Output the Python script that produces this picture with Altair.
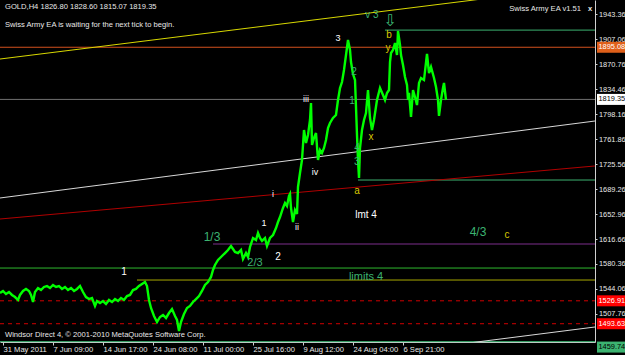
import altair as alt
import pandas as pd

W, H = 595, 342
Y_MIN, Y_MAX = 1467.1, 1963.7
FONT = "Liberation Sans"

# ---- price path (bar position, price) ----
bar_x = [0, 3, 6, 9, 12, 15, 18, 20, 23, 26, 29, 31, 33, 35, 38, 41, 44, 47, 50, 53,
         56, 59, 62, 65, 68, 71, 74, 77, 80, 83, 86, 89, 92, 95, 97, 100, 103, 106, 109, 112,
         115, 118, 121, 124, 127, 130, 133, 136, 139, 142, 145, 147, 149, 151, 154, 157, 160, 163, 166, 169,
         172, 175, 177, 179, 181, 184, 187, 190, 193, 196, 199, 202, 205, 208, 211, 213, 215,
         218, 222, 225, 228, 231, 233, 235, 238, 241, 243, 246, 248, 250, 253, 256, 258, 260, 262, 265,
         267, 270, 273, 276, 278, 280, 283, 285, 287, 289, 290, 291, 293, 295, 297,
         298, 300, 302, 304, 306, 308, 310, 311, 312, 314, 316, 318, 320, 322, 324, 326, 328, 330, 333, 336,
         338, 340, 342, 344, 346, 348, 350, 351, 353, 355, 356, 357, 358, 359, 360, 362, 364, 366, 368, 370,
         372, 374, 377, 380, 383, 385, 387, 389, 390, 391, 393, 395, 397, 398, 400, 401, 403, 405, 407, 408,
         409, 411, 413, 415, 417, 419, 421, 424, 427, 429, 431, 434, 436, 438, 439, 441, 443, 444, 446]
bar_price = [1538.2, 1541.2, 1536.8, 1539.7, 1535.4, 1532.4, 1528.1, 1535.4, 1541.2, 1544.1,
             1541.2, 1535.4, 1525.2, 1539.7, 1545.5, 1542.6, 1547.0, 1548.4, 1545.5, 1549.9,
             1547.0, 1548.4, 1544.1, 1547.0, 1542.6, 1545.5, 1541.2, 1544.1, 1548.4, 1539.7,
             1532.4, 1529.5, 1531.0, 1519.4, 1526.6, 1523.7, 1526.6, 1522.3, 1528.1, 1525.2,
             1529.5, 1526.6, 1531.0, 1528.1, 1533.9, 1535.4, 1542.6, 1544.1, 1548.4, 1551.3,
             1554.2, 1548.4, 1528.1, 1516.5, 1504.9, 1496.2, 1503.4, 1506.3, 1502.0, 1509.2,
             1515.0, 1504.9, 1499.1, 1483.1, 1496.2, 1507.8, 1516.5, 1519.4, 1525.2, 1529.5,
             1533.9, 1541.2, 1549.9, 1554.2, 1561.5, 1571.7, 1578.9,
             1586.2, 1592.0, 1596.3, 1600.7, 1606.5, 1602.1, 1597.8, 1596.3, 1600.7, 1587.6,
             1596.3, 1590.5, 1605.1, 1618.1, 1615.2, 1625.4, 1618.1, 1613.8, 1618.1, 1606.5,
             1618.1, 1622.5, 1632.6, 1641.3, 1648.6, 1661.7, 1668.9, 1664.6, 1679.1, 1682.0,
             1661.7, 1641.3, 1658.8, 1653.0,
             1692.2, 1712.5, 1731.4, 1774.9, 1756.1, 1767.7, 1789.5, 1814.1, 1753.2, 1763.3,
             1770.6, 1731.4, 1745.9, 1741.5, 1748.8, 1760.4, 1777.8, 1785.1, 1792.4, 1796.7,
             1818.5, 1835.9, 1844.6, 1862.1, 1883.8, 1905.6, 1891.1, 1873.7, 1856.2, 1847.5,
             1808.3, 1767.7, 1731.4, 1705.2, 1748.8, 1774.9, 1789.5, 1799.6, 1833.0, 1792.4,
             1774.9, 1789.5, 1818.5, 1835.9, 1825.8, 1818.5, 1828.7, 1833.0, 1873.7, 1886.7,
             1891.1, 1901.3, 1883.8, 1918.7, 1898.4, 1883.8, 1869.3, 1851.9, 1840.3, 1818.5,
             1828.7, 1793.8, 1833.0, 1822.9, 1811.2, 1843.2, 1850.4, 1847.5, 1885.3, 1857.7,
             1866.4, 1850.4, 1837.4, 1818.5, 1795.3, 1818.5, 1835.9, 1843.2, 1818.5]

# ---- horizontal levels ----
lvl_price = [1920.0, 1895.08, 1819.35, 1702.3, 1609.4, 1574.5, 1557.1, 1467.6]
lvl_x0 = [385, 0, 0, 358, 213, 0, 137, 0]
lvl_x1 = [595, 595, 595, 595, 595, 595, 595, 595]
lvl_color = ["#3cb371", "#d2501e", "#707070", "#3cb371", "#7d2f8c", "#2db82d", "#a8a800", "#3cb371"]
dash_price = [1526.91, 1493.63]

# ---- trend lines ----
tr_id = ["yellow", "yellow", "white", "white", "red", "red", "white2", "white2"]
tr_x = [0, 595, 0, 595, 0, 595, 420, 595]
tr_price = [1878.0, 1985.6, 1676.2, 1788.0, 1645.7, 1722.7, 1456.6, 1488.9]
tr_color = ["#d8d800", "#d8d800", "#d8d8d8", "#d8d8d8", "#b00000", "#b00000", "#d8d8d8", "#d8d8d8"]

# ---- wave annotations ----
ann_text = ["v 3", "3", "b", "y", "2", "1", "iii", "x", "4", "3", "iv", "a", "i", "lmt 4",
            "1", "ii", "4/3", "c", "1/3", "2", "2/3", "1", "limits 4"]
ann_x = [372, 338, 389, 388, 354, 352, 306, 371, 357, 357, 315, 357, 273, 366,
         264, 297, 478, 507, 212, 278, 255, 124, 366]
ann_price = [1941.9, 1908.5, 1912.9, 1894.0, 1859.1, 1817.0, 1819.9, 1764.8, 1748.8, 1728.5,
             1713.9, 1686.4, 1682.0, 1651.5, 1639.9, 1634.1, 1626.8, 1622.5, 1619.6, 1590.5,
             1581.8, 1568.7, 1561.5]
ann_color = ["#3cb371", "#ffffff", "#d8c800", "#d8c800", "#3cb371", "#3cb371", "#ffffff", "#d8c800",
             "#3cb371", "#3cb371", "#ffffff", "#d8c800", "#ffffff", "#ffffff", "#ffffff", "#ffffff",
             "#3cb371", "#d8c800", "#3cb371", "#ffffff", "#3cb371", "#ffffff", "#3cb371"]
ann_size = [10, 9, 10, 10, 10, 10, 9, 10, 10, 11, 9, 10, 9, 10, 9, 9, 12, 10, 12, 10, 11, 10, 11]

# ---- price boxes on the right axis ----
box_price = [1895.08, 1819.35, 1526.91, 1493.63, 1459.74]
box_text = ["1895.08", "1819.35", "1526.91", "1493.63", "1459.74"]
box_fill = ["#e0601a", "#ffffff", "#ff0000", "#ff0000", "#3cb371"]
box_tc = ["#ffffff", "#000000", "#ffffff", "#ffffff", "#000000"]

# ---- axes ----
y_ticks = [1943.36, 1907.06, 1870.76, 1834.46, 1798.16, 1761.86, 1725.56, 1689.26,
           1652.96, 1616.66, 1580.36, 1544.06, 1507.76]
time_x = [3, 53, 103, 153, 203, 253, 303, 353, 403]
time_labels = ["31 May 2011", "7 Jun 09:00", "14 Jun 17:00", "24 Jun 08:00", "11 Jul 00:00",
               "25 Jul 16:00", "9 Aug 12:00", "24 Aug 04:00", "6 Sep 21:00"]

expr = "".join(f"datum.value == {v} ? '{t}' : " for v, t in zip(time_x, time_labels)) + "''"

AX = 7.4
xs = alt.Scale(domain=[0, W], nice=False, zero=False)
ys = alt.Scale(domain=[Y_MIN, Y_MAX], nice=False, zero=False)
x_axis = alt.Axis(values=time_x, labelExpr=expr, title=None, grid=False, labelAlign="left",
                  labelFlush=False, labelOverlap=False, labelColor="#e8e8e8", labelFontSize=7.6,
                  labelFont=FONT, tickColor="#d0d0d0", tickSize=3, domainColor="#d0d0d0",
                  labelPadding=0)
y_axis = alt.Axis(orient="right", values=y_ticks, format=".2f", title=None, grid=False,
                  labelColor="#e8e8e8", labelFontSize=AX, labelFont=FONT, tickColor="#d0d0d0",
                  tickSize=2, domainColor="#d0d0d0", labelPadding=1.5, labelOverlap=False,
                  labelFlush=False)


def X(f):
    return alt.X(f"{f}:Q", scale=xs, axis=x_axis)


def Y(f):
    return alt.Y(f"{f}:Q", scale=ys, axis=y_axis)


price_df = pd.DataFrame({"x": bar_x, "p": bar_price})
lvl_df = pd.DataFrame({"x": lvl_x0, "x1": lvl_x1, "p": lvl_price, "c": lvl_color})
dash_df = pd.DataFrame({"x": [0] * len(dash_price), "x1": [595] * len(dash_price), "p": dash_price})
tr_df = pd.DataFrame({"id": tr_id, "x": tr_x, "p": tr_price, "c": tr_color})
ann_df = pd.DataFrame({"t": ann_text, "x": ann_x, "p": ann_price, "c": ann_color, "s": ann_size})
box_df = pd.DataFrame({"p": box_price, "t": box_text, "f": box_fill, "tc": box_tc})

levels = alt.Chart(lvl_df).mark_rule(strokeWidth=1).encode(
    x=X("x"), x2="x1:Q", y=Y("p"), color=alt.Color("c:N", scale=None))
dashed = alt.Chart(dash_df).mark_rule(strokeWidth=1, strokeDash=[4, 4], color="#d00000").encode(
    x=X("x"), x2="x1:Q", y=Y("p"))
trends = alt.Chart(tr_df).mark_line(strokeWidth=1, clip=True).encode(
    x=X("x"), y=Y("p"), detail="id:N", color=alt.Color("c:N", scale=None))
price = alt.Chart(price_df).mark_line(color="#00ff00", strokeWidth=2.4).encode(
    x=X("x"), y=Y("p"), order="x:Q")
ann = alt.Chart(ann_df).mark_text(font=FONT, baseline="middle", align="center").encode(
    x=X("x"), y=Y("p"), text="t:N", color=alt.Color("c:N", scale=None),
    size=alt.Size("s:Q", scale=None))
boxes = alt.Chart(box_df).mark_rule(strokeWidth=11, clip=False).encode(
    x=alt.value(597), x2=alt.value(625), y=Y("p"), color=alt.Color("f:N", scale=None))
box_txt = alt.Chart(box_df).mark_text(font=FONT, fontSize=AX, align="left", baseline="middle").encode(
    x=alt.value(598.5), y=Y("p"), text="t:N", color=alt.Color("tc:N", scale=None))

arrow = alt.Chart(pd.DataFrame({"x": [390], "p": [1933.0]})).mark_text(
    text="⇩", font="DejaVu Sans", fontSize=16, color="#3cb371").encode(x=X("x"), y=Y("p"))


def label(txt, x, y, align="left", size=7.6, color="#e8e8e8", weight="normal"):
    return alt.Chart(pd.DataFrame({"a": [0]})).mark_text(
        font=FONT, fontSize=size, align=align, baseline="middle", color=color,
        fontWeight=weight).encode(x=alt.value(x), y=alt.value(y), text=alt.value(txt))


texts = [
    label("GOLD,H4  1826.80 1828.60 1815.07 1819.35", 5, 7),
    label("Swiss Army EA is waiting for the next tick to begin.", 5, 25),
    label("Swiss Army EA v1.51", 581, 9, align="right"),
    label("x", 588, 9, weight="bold"),
    label("Windsor Direct 4, © 2001-2010 MetaQuotes Software Corp.", 5, 335),
]

chart = alt.layer(levels, dashed, trends, price, ann, arrow, boxes, box_txt, *texts).properties(
    width=W, height=H, background="black",
    padding={"left": 0, "top": 0, "right": 30, "bottom": 13},
    autosize=alt.AutoSizeParams(type="none"),
).configure_view(stroke=None)

chart.save("out.html", embed_options={"renderer": "svg", "actions": False})
